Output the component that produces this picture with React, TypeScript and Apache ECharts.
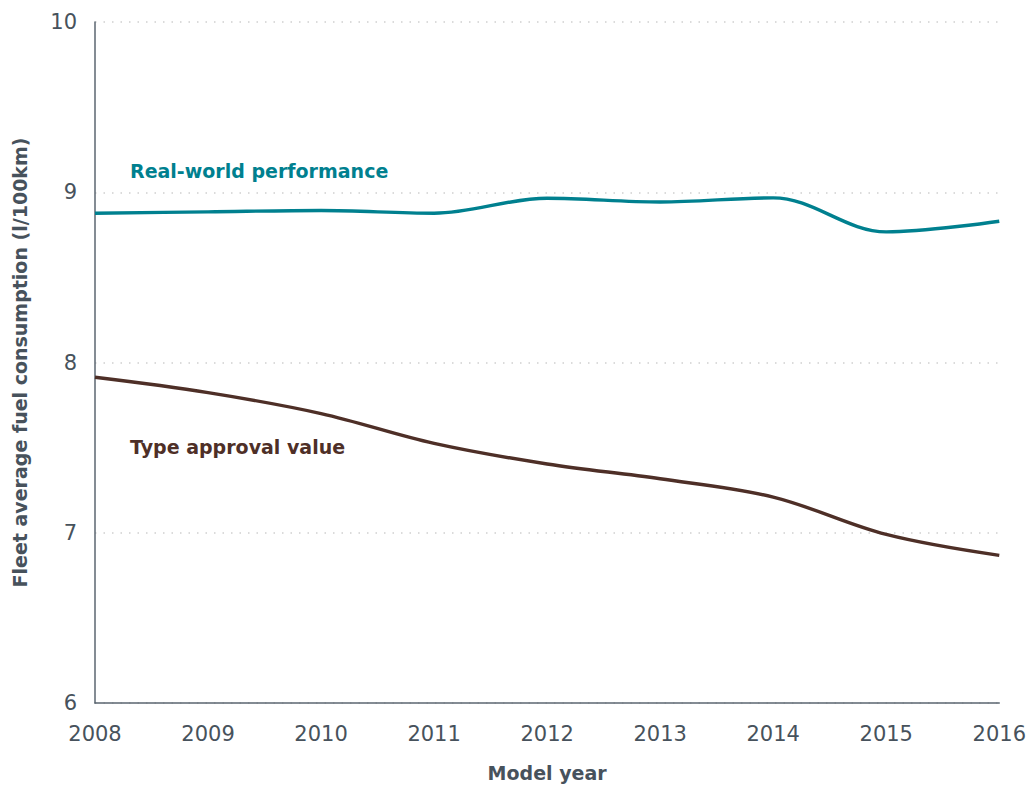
import React, { useEffect, useRef } from "react";
import * as echarts from "echarts";

const years = ["2008", "2009", "2010", "2011", "2012", "2013", "2014", "2015", "2016"];
const realWorld = [8.877, 8.885, 8.893, 8.877, 8.965, 8.943, 8.967, 8.767, 8.83];
const typeApproval = [7.913, 7.823, 7.7, 7.525, 7.404, 7.317, 7.209, 6.99, 6.867];
const yTicks = [6, 7, 8, 9, 10];

const FONT = "'DejaVu Sans', sans-serif";
const TEAL = "#00808f";
const BROWN = "#4e2f27";
const AXIS_TEXT = "#47525c";

export default function App() {
  const ref = useRef<HTMLDivElement>(null);
  useEffect(() => {
    if (!ref.current) return;
    const chart = echarts.init(ref.current, undefined, { renderer: "svg" });
    chart.setOption({
      animation: false,
      backgroundColor: "#ffffff",
      textStyle: { fontFamily: FONT },
      grid: { left: 95, right: 22, top: 22, bottom: 85, containLabel: false },
      xAxis: {
        type: "category",
        data: years,
        boundaryGap: false,
        name: "Model year",
        nameLocation: "middle",
        nameGap: 60,
        nameTextStyle: { fontFamily: FONT, fontSize: 19, fontWeight: "bold", color: AXIS_TEXT },
        axisLine: { show: true, lineStyle: { color: "#5b6670", width: 1.5 } },
        axisTick: { show: false },
        axisLabel: { fontFamily: FONT, fontSize: 21, color: AXIS_TEXT, margin: 20 },
        splitLine: { show: false },
      },
      yAxis: {
        type: "value",
        min: yTicks[0],
        max: yTicks[yTicks.length - 1],
        interval: 1,
        name: "Fleet average fuel consumption (l/100km)",
        nameLocation: "middle",
        nameGap: 66,
        nameTextStyle: { fontFamily: FONT, fontSize: 19, fontWeight: "bold", color: AXIS_TEXT },
        axisLine: { show: true, lineStyle: { color: "#5b6670", width: 1.5 } },
        axisTick: { show: false },
        axisLabel: { fontFamily: FONT, fontSize: 21, color: AXIS_TEXT, margin: 18 },
        splitLine: { show: true, lineStyle: { color: "#cfcfcf", width: 1.5, type: [1.5, 7] } },
      },
      series: [
        {
          name: "Real-world performance",
          type: "line",
          data: realWorld,
          smooth: 0.35,
          symbol: "none",
          lineStyle: { color: TEAL, width: 3.4 },
          z: 3,
        },
        {
          name: "Type approval value",
          type: "line",
          data: typeApproval,
          smooth: 0.35,
          symbol: "none",
          lineStyle: { color: BROWN, width: 3.4 },
          z: 3,
        },
      ],
      graphic: [
        {
          type: "text",
          left: 130,
          top: 161,
          style: { text: "Real-world performance", fill: TEAL, font: `bold 19px ${FONT}` },
        },
        {
          type: "text",
          left: 130,
          top: 437,
          style: { text: "Type approval value", fill: BROWN, font: `bold 19px ${FONT}` },
        },
      ],
    });
    return () => chart.dispose();
  }, []);
  return (
    <div
      ref={ref}
      style={{ position: "fixed", left: 0, top: 0, width: 1029, height: 788, overflow: "hidden" }}
    />
  );
}
